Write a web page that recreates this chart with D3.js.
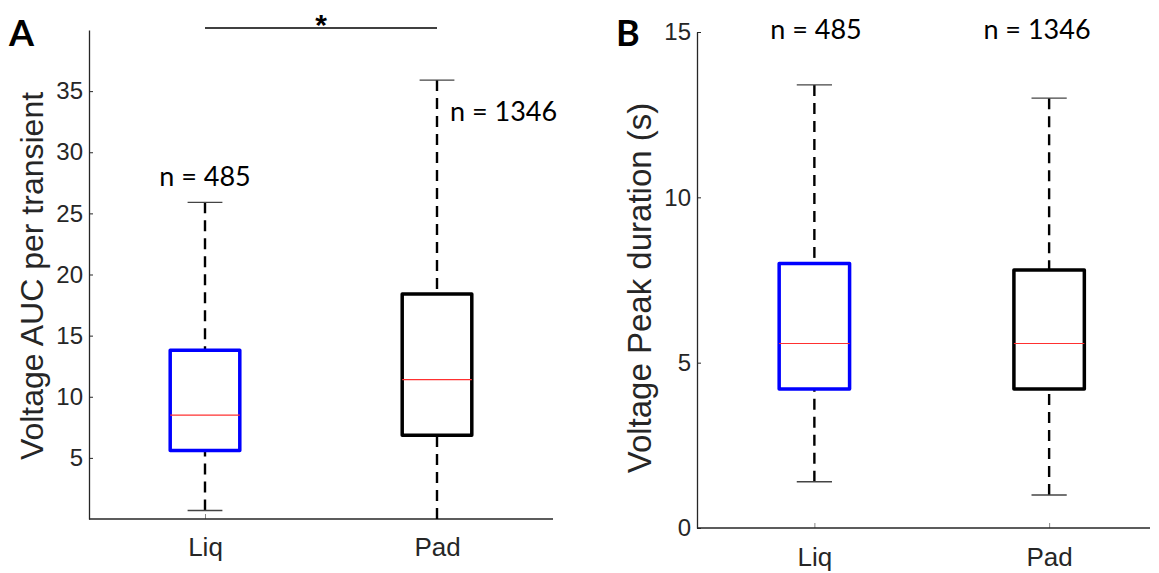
<!DOCTYPE html>
<html>
<head>
<meta charset="utf-8">
<script src="https://cdn.jsdelivr.net/npm/d3@7"></script>
<style>
  html, body { margin: 0; padding: 0; background: #fff; }
  svg { display: block; }
</style>
</head>
<body>
<svg id="chart" width="1159" height="573"></svg>
<script>
// ---------- DATA ----------
const categories = ["Liq", "Pad"];
const counts = ["n = 485", "n = 1346"];

// Panel A: Voltage AUC per transient
const aucWhiskerLow  = [0.7, 0.0];
const aucQ1          = [5.6, 6.85];
const aucMedian      = [8.5, 11.4];
const aucQ3          = [13.8, 18.4];
const aucWhiskerHigh = [25.9, 35.9];
const aucTicks = [5, 10, 15, 20, 25, 30, 35];

// Panel B: Voltage Peak duration (s)
const durWhiskerLow  = [1.4, 1.0];
const durQ1          = [4.2, 4.2];
const durMedian      = [5.58, 5.58];
const durQ3          = [8.0, 7.8];
const durWhiskerHigh = [13.4, 13.0];
const durTicks = [0, 5, 10, 15];

const boxColors = ["#0000ff", "#000000"];

// ---------- DRAW ----------
const svg = d3.select("#chart");
const axisColor = "#262626";
const tickFont = "'Liberation Sans', Arial, sans-serif";
const nFont = "Lato, 'Open Sans', sans-serif";

function panel(opts) {
  const g = svg.append("g");
  const x = d3.scaleLinear().domain([0.5, 2.5]).range(opts.xRange);
  const y = d3.scaleLinear().domain(opts.yDomain).range(opts.yRange);

  // y axis
  const ya = g.append("g")
    .attr("transform", `translate(${opts.xRange[0]},0)`)
    .call(d3.axisLeft(y).tickValues(opts.ticks).tickFormat(d3.format("d"))
      .tickSizeInner(-4).tickSizeOuter(0).tickPadding(6));
  ya.select(".domain").attr("stroke", axisColor).attr("stroke-width", 1.3);
  ya.selectAll(".tick line").attr("stroke", axisColor).attr("stroke-width", 1);
  ya.selectAll(".tick text").attr("fill", axisColor)
    .style("font-family", tickFont).style("font-size", "24px");

  // x axis
  const xa = g.append("g")
    .attr("transform", `translate(0,${opts.yRange[0]})`)
    .call(d3.axisBottom(x).tickValues([1, 2]).tickFormat((d) => categories[d - 1])
      .tickSizeInner(-5).tickSizeOuter(0).tickPadding(opts.xPad));
  xa.select(".domain").remove();
  xa.append("line")
    .attr("x1", opts.xRange[0]).attr("x2", opts.xAxisEnd)
    .attr("y1", 0).attr("y2", 0)
    .attr("stroke", axisColor).attr("stroke-width", 1.3);
  xa.selectAll(".tick line").attr("stroke", "#888").attr("stroke-width", 1);
  xa.selectAll(".tick text").attr("fill", axisColor)
    .style("font-family", tickFont).style("font-size", "26px");

  const halfBox = (x(1.15) - x(0.85)) / 2;
  const halfCap = halfBox / 2;

  categories.forEach((c, i) => {
    const cx = x(i + 1);
    // whiskers
    [[opts.low[i], opts.q1[i]], [opts.high[i], opts.q3[i]]].forEach(([a, b]) => {
      g.append("line")
        .attr("x1", cx).attr("x2", cx)
        .attr("y1", y(a)).attr("y2", y(b))
        .attr("stroke", "#000").attr("stroke-width", 2.4)
        .attr("stroke-dasharray", "11,7");
    });
    // caps
    [opts.low[i], opts.high[i]].forEach((v) => {
      if (v <= opts.yDomain[0]) return;
      g.append("line")
        .attr("x1", cx - halfCap).attr("x2", cx + halfCap)
        .attr("y1", y(v)).attr("y2", y(v))
        .attr("stroke", "#444").attr("stroke-width", 1.4);
    });
    // box
    g.append("rect")
      .attr("x", cx - halfBox).attr("width", 2 * halfBox)
      .attr("y", y(opts.q3[i])).attr("height", y(opts.q1[i]) - y(opts.q3[i]))
      .attr("fill", "#fff")
      .attr("stroke", boxColors[i]).attr("stroke-width", 3.5)
      .attr("stroke-linejoin", "round");
    // median
    g.append("line")
      .attr("x1", cx - halfBox).attr("x2", cx + halfBox)
      .attr("y1", y(opts.med[i])).attr("y2", y(opts.med[i]))
      .attr("stroke", "#ff3030").attr("stroke-width", 1.1);
  });

  // n labels
  opts.nLabels.forEach((p, i) => {
    g.append("text")
      .attr("x", p[0]).attr("y", p[1])
      .attr("text-anchor", p[2])
      .attr("fill", "#000")
      .style("font-family", nFont).style("font-size", "27px")
      .text(counts[i]);
  });

  // y label
  g.append("text")
    .attr("transform", `translate(${opts.yLabelPos[0]},${opts.yLabelPos[1]}) rotate(-90)`)
    .attr("text-anchor", "middle")
    .attr("fill", axisColor)
    .style("font-family", tickFont).style("font-size", opts.yLabelSize)
    .text(opts.yLabel);

  // panel letter
  g.append("text")
    .attr("x", opts.letterPos[0]).attr("y", opts.letterPos[1])
    .attr("fill", "#000")
    .style("font-family", "Lato, 'Liberation Sans', sans-serif")
    .style("font-weight", "bold").style("font-size", "36px")
    .text(opts.letter);

  return { x, y, g };
}

const A = panel({
  xRange: [89, 553], xAxisEnd: 553, xPad: 19,
  yDomain: [0, 40], yRange: [519, 30],
  ticks: aucTicks,
  low: aucWhiskerLow, q1: aucQ1, med: aucMedian, q3: aucQ3, high: aucWhiskerHigh,
  nLabels: [[205, 186, "middle"], [450, 121, "start"]],
  yLabel: "Voltage AUC per transient", yLabelSize: "32px", yLabelPos: [43, 276],
  letter: "A", letterPos: [9, 46]
});

// significance bar
A.g.append("line")
  .attr("x1", A.x(1)).attr("x2", A.x(2))
  .attr("y1", 28).attr("y2", 28)
  .attr("stroke", "#000").attr("stroke-width", 1.5);
A.g.append("text")
  .attr("x", (A.x(1) + A.x(2)) / 2).attr("y", 35)
  .attr("text-anchor", "middle")
  .style("font-family", "'Liberation Sans', Arial, sans-serif")
  .style("font-weight", "bold").style("font-size", "30px")
  .text("*");

const B = panel({
  xRange: [697, 1166.5], xAxisEnd: 1150, xPad: 20,
  yDomain: [0, 15], yRange: [528, 32],
  ticks: durTicks,
  low: durWhiskerLow, q1: durQ1, med: durMedian, q3: durQ3, high: durWhiskerHigh,
  nLabels: [[816, 39, "middle"], [1037, 39, "middle"]],
  yLabel: "Voltage Peak duration (s)", yLabelSize: "33px", yLabelPos: [651, 288],
  letter: "B", letterPos: [616, 46]
});
</script>
</body>
</html>
